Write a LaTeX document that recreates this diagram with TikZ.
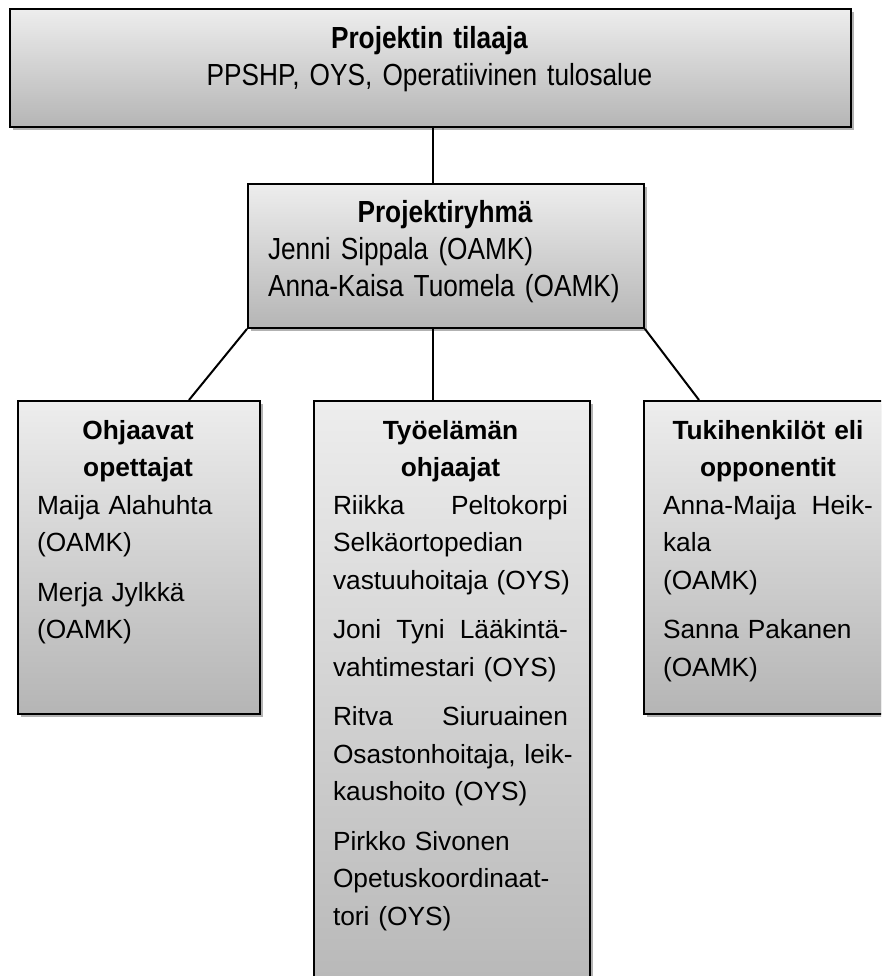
\documentclass[tikz,border=0pt]{standalone}
\usepackage{fontspec}
\setmainfont{Liberation Sans}
\newfontfamily\ylafont{Liberation Sans}[FakeStretch=0.86]
\usetikzlibrary{shadows}
\newcommand\otsikko[1]{\centerline{\bfseries #1}}
\newcommand\jako{\nobreak\hfill}

\begin{document}
\begin{tikzpicture}[x=1pt,y=-1pt]
	\tikzset{laatikko/.style={draw=black,line width=1.9pt,anchor=north west,inner sep=0pt,
			top color=black!7,bottom color=black!29,
			drop shadow={shadow xshift=3pt,shadow yshift=-3pt,opacity=.3,fill=black}},
		ylateksti/.style={anchor=base,inner sep=0pt,font=\ylafont\fontsize{30.5pt}{37pt}\selectfont},
		alateksti/.style={anchor=base,inner sep=0pt,align=left,font=\fontsize{26.3pt}{37.5pt}\selectfont},
		viiva/.style={line width=2pt}}
	\useasboundingbox (0,0) rectangle (881,976);
	\clip (0,0) rectangle (881,976);
	\node[laatikko,minimum width=841pt,minimum height=118pt] (tilaaja) at (9,8) {};
	\node[laatikko,minimum width=396pt,minimum height=144pt] (ryhma) at (247,183) {};
	\node[laatikko,minimum width=242pt,minimum height=313pt] (ohjaavat) at (17,400) {};
	\node[laatikko,minimum width=276pt,minimum height=620pt] (tyo) at (313,400) {};
	\node[laatikko,minimum width=250pt,minimum height=313pt] (tuki) at (643,400) {};
	\coordinate (runko) at (433,0);
	\draw[viiva] (runko |- tilaaja.south) -- (runko |- ryhma.north);
	\draw[viiva] (runko |- ryhma.south) -- (runko |- tyo.north);
	\draw[viiva] (ryhma.south west) -- ([xshift=172pt]ohjaavat.north west);
	\draw[viiva] (ryhma.south east) -- ([xshift=56pt]tuki.north west);
	\node[ylateksti,text width=800pt,align=center] (tilaajaTxt) at (429.5,48.7)
	{\textbf{Projektin tilaaja}\\PPSHP, OYS, Operatiivinen tulosalue};
	\node[ylateksti,text width=354pt,align=left] (ryhmaTxt) at (445,222.7)
	{\otsikko{Projektiryhmä}
		Jenni Sippala (OAMK)\\
		Anna-Kaisa Tuomela (OAMK)};
	\node[alateksti,text width=202pt] (ohjaavatTxt) at (138,439)
	{\otsikko{Ohjaavat}
		\otsikko{opettajat}
		Maija~Alahuhta\\
		(OAMK)\\[12pt]
		Merja~Jylkkä\\
		(OAMK)};
	\node[alateksti,text width=235pt] (tyoTxt) at (450.5,439)
	{\otsikko{Työelämän}
		\otsikko{ohjaajat}
		Riikka\jako Peltokorpi\\
		Selkäortopedian\\
		vastuuhoitaja~(OYS)\\[12pt]
		Joni\jako Tyni\jako Lääkintä-\\
		vahtimestari~(OYS)\\[12pt]
		Ritva\jako Siuruainen\\
		\makebox[\linewidth][s]{Osastonhoitaja, leik-}\\
		kaushoito~(OYS)\\[12pt]
		Pirkko~Sivonen\\
		Opetuskoordinaat-\\
		tori~(OYS)};
	\node[alateksti,text width=210pt] (tukiTxt) at (768,439)
	{\otsikko{Tukihenkilöt eli}
		\otsikko{opponentit}
		Anna-Maija\jako Heik-\\
		kala\\
		(OAMK)\\[12pt]
		Sanna~Pakanen\\
		(OAMK)};
\end{tikzpicture}
\end{document}
